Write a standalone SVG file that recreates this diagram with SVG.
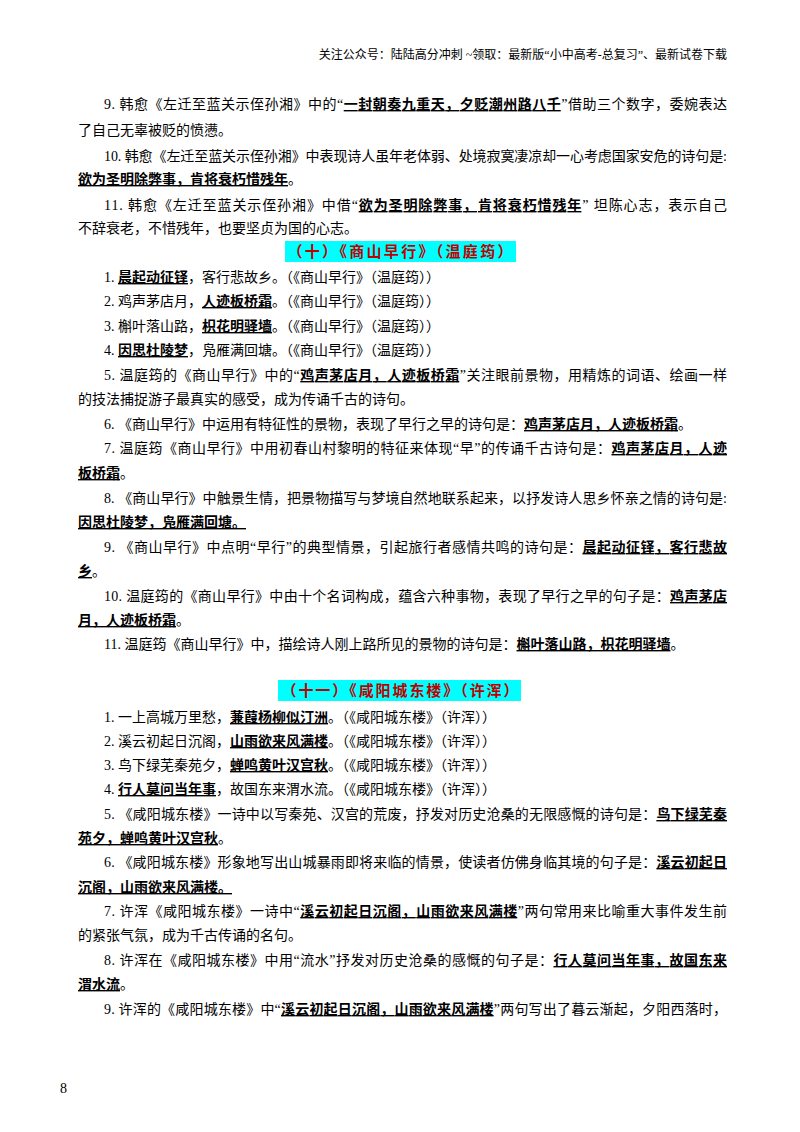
<svg xmlns="http://www.w3.org/2000/svg" width="800" height="1132" viewBox="0 0 800 1132">
<style>
text{font-family:"Liberation Serif","Noto Sans CJK SC",serif;font-size:14px;fill:#000}
.h{font-size:12px}
.b{font-weight:bold;text-decoration:underline}
.t{font-weight:bold;font-size:15px;fill:#c00000}
</style>
<rect width="800" height="1132" fill="#fff"/>
<g id="header"><text class="h" x="727" y="59" text-anchor="end">关注公众号：陆陆高分冲刺 ~领取：最新版“小中高考-总复习”、最新试卷下载</text></g>
<g id="sec9">
<text x="104" y="109" textLength="623" lengthAdjust="spacing">9. 韩愈《左迁至蓝关示侄孙湘》中的“<tspan class="b">一封朝奏九重天，夕贬潮州路八千</tspan>”借助三个数字，委婉表达</text>
<text x="78" y="135">了自己无辜被贬的愤懑。</text>
<text x="104" y="161" textLength="623" lengthAdjust="spacing">10. 韩愈《左迁至蓝关示侄孙湘》中表现诗人虽年老体弱、处境寂寞凄凉却一心考虑国家安危的诗句是:</text>
<text x="78" y="184"><tspan class="b">欲为圣明除弊事，肯将衰朽惜残年</tspan>。</text>
<text x="104" y="210" textLength="623" lengthAdjust="spacing">11. 韩愈《左迁至蓝关示侄孙湘》中借“<tspan class="b">欲为圣明除弊事，肯将衰朽惜残年</tspan>” 坦陈心志，表示自己</text>
<text x="78" y="233">不辞衰老，不惜残年，也要坚贞为国的心志。</text>
</g>
<g id="title10"><rect x="285" y="241" width="231" height="21" fill="#00ffff"/><text class="t" x="400" y="257" text-anchor="middle" textLength="225" lengthAdjust="spacing">（十）《商山早行》（温庭筠）</text></g>
<g id="sec10">
<text x="104" y="282">1. <tspan class="b">晨起动征铎</tspan>，客行悲故乡。（《商山早行》（温庭筠））</text>
<text x="104" y="306">2. 鸡声茅店月，<tspan class="b">人迹板桥霜</tspan>。（《商山早行》（温庭筠））</text>
<text x="104" y="331">3. 槲叶落山路，<tspan class="b">枳花明驿墙</tspan>。（《商山早行》（温庭筠））</text>
<text x="104" y="355">4. <tspan class="b">因思杜陵梦</tspan>，凫雁满回塘。（《商山早行》（温庭筠））</text>
<text x="104" y="380" textLength="623" lengthAdjust="spacing">5. 温庭筠的《商山早行》中的“<tspan class="b">鸡声茅店月，人迹板桥霜</tspan>”关注眼前景物，用精炼的词语、绘画一样</text>
<text x="78" y="404">的技法捕捉游子最真实的感受，成为传诵千古的诗句。</text>
<text x="104" y="429">6. 《商山早行》中运用有特征性的景物，表现了早行之早的诗句是：<tspan class="b">鸡声茅店月，人迹板桥霜</tspan>。</text>
<text x="104" y="453" textLength="623" lengthAdjust="spacing">7. 温庭筠《商山早行》中用初春山村黎明的特征来体现“早”的传诵千古诗句是：<tspan class="b">鸡声茅店月，人迹</tspan></text>
<text x="78" y="478"><tspan class="b">板桥霜</tspan>。</text>
<text x="104" y="503" textLength="623" lengthAdjust="spacing">8. 《商山早行》中触景生情，把景物描写与梦境自然地联系起来，以抒发诗人思乡怀亲之情的诗句是:</text>
<text x="78" y="527"><tspan class="b">因思杜陵梦，凫雁满回塘。</tspan></text>
<text x="104" y="552" textLength="623" lengthAdjust="spacing">9. 《商山早行》中点明“早行”的典型情景，引起旅行者感情共鸣的诗句是：<tspan class="b">晨起动征铎，客行悲故</tspan></text>
<text x="78" y="576"><tspan class="b">乡</tspan>。</text>
<text x="104" y="601" textLength="623" lengthAdjust="spacing">10. 温庭筠的《商山早行》中由十个名词构成，蕴含六种事物，表现了早行之早的句子是：<tspan class="b">鸡声茅店</tspan></text>
<text x="78" y="625"><tspan class="b">月，人迹板桥霜</tspan>。</text>
<text x="104" y="649">11. 温庭筠《商山早行》中，描绘诗人刚上路所见的景物的诗句是：<tspan class="b">槲叶落山路，枳花明驿墙</tspan>。</text>
</g>
<g id="title11"><rect x="278" y="680" width="243" height="21" fill="#00ffff"/><text class="t" x="400" y="696" text-anchor="middle" textLength="237" lengthAdjust="spacing">（十一）《咸阳城东楼》（许浑）</text></g>
<g id="sec11">
<text x="104" y="722">1. 一上高城万里愁，<tspan class="b">蒹葭杨柳似汀洲</tspan>。（《咸阳城东楼》（许浑））</text>
<text x="104" y="746">2. 溪云初起日沉阁，<tspan class="b">山雨欲来风满楼</tspan>。（《咸阳城东楼》（许浑））</text>
<text x="104" y="770">3. 鸟下绿芜秦苑夕，<tspan class="b">蝉鸣黄叶汉宫秋</tspan>。（《咸阳城东楼》（许浑））</text>
<text x="104" y="794">4. <tspan class="b">行人莫问当年事</tspan>，故国东来渭水流。（《咸阳城东楼》（许浑））</text>
<text x="104" y="819" textLength="623" lengthAdjust="spacing">5. 《咸阳城东楼》一诗中以写秦苑、汉宫的荒废，抒发对历史沧桑的无限感慨的诗句是：<tspan class="b">鸟下绿芜秦</tspan></text>
<text x="78" y="843"><tspan class="b">苑夕，蝉鸣黄叶汉宫秋</tspan>。</text>
<text x="104" y="867" textLength="623" lengthAdjust="spacing">6. 《咸阳城东楼》形象地写出山城暴雨即将来临的情景，使读者仿佛身临其境的句子是：<tspan class="b">溪云初起日</tspan></text>
<text x="78" y="892"><tspan class="b">沉阁，山雨欲来风满楼。</tspan></text>
<text x="104" y="916" textLength="623" lengthAdjust="spacing">7. 许浑《咸阳城东楼》一诗中“<tspan class="b">溪云初起日沉阁，山雨欲来风满楼</tspan>”两句常用来比喻重大事件发生前</text>
<text x="78" y="940">的紧张气氛，成为千古传诵的名句。</text>
<text x="104" y="965" textLength="623" lengthAdjust="spacing">8. 许浑在《咸阳城东楼》中用“流水”抒发对历史沧桑的感慨的句子是：<tspan class="b">行人莫问当年事，故国东来</tspan></text>
<text x="78" y="989"><tspan class="b">渭水流</tspan>。</text>
<text x="104" y="1014" textLength="623" lengthAdjust="spacing">9. 许浑的《咸阳城东楼》中“<tspan class="b">溪云初起日沉阁，山雨欲来风满楼</tspan>”两句写出了暮云渐起，夕阳西落时，</text>
</g>
<g id="footer"><text x="60" y="1093">8</text></g>
<g id="connectors"/>
</svg>
